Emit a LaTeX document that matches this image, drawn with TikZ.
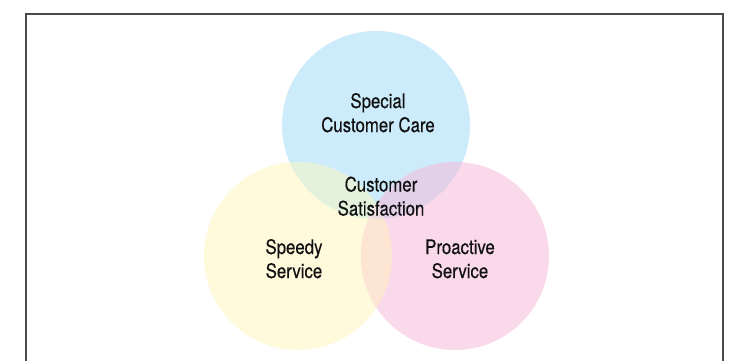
\documentclass[tikz,border=0pt]{standalone}
\usepackage{fontspec}
\setmainfont{TeX Gyre Heros}[FakeStretch=0.84,FakeBold=0.35]
\definecolor{cblue}{HTML}{CCEBFB}
\definecolor{cyellow}{HTML}{FEFADB}
\definecolor{cpink}{HTML}{FAD9EA}
\definecolor{cBY}{HTML}{E4F1DD}
\definecolor{cBP}{HTML}{E2D0E9}
\definecolor{cYP}{HTML}{FDE5D3}
\definecolor{cBYP}{HTML}{EEDDE0}
\definecolor{cframe}{HTML}{4A4A4A}
\definecolor{ctext}{HTML}{111111}
\tikzset{
  lbl/.style={align=center, inner sep=0pt, text=ctext, anchor=base,
    font=\fontsize{20}{24}\selectfont},
  rad/.style={radius=94pt}
}
\begin{document}
\begin{tikzpicture}[x=1pt,y=-1pt]
\useasboundingbox (0,0) rectangle (737,361);
\clip (0,0) rectangle (737,361);
\fill[white] (0,0) rectangle (737,361);
\coordinate (B) at (376,125);
\coordinate (Y) at (298,256);
\coordinate (P) at (455,256);
\fill[cblue] (B) circle[rad];
\fill[cyellow] (Y) circle[rad];
\fill[cpink] (P) circle[rad];
\begin{scope}\clip (B) circle[rad]; \fill[cBY] (Y) circle[rad];\end{scope}
\begin{scope}\clip (B) circle[rad]; \fill[cBP] (P) circle[rad];\end{scope}
\begin{scope}\clip (Y) circle[rad]; \fill[cYP] (P) circle[rad];\end{scope}
\begin{scope}\clip (B) circle[rad]; \clip (Y) circle[rad]; \fill[cBYP] (P) circle[rad];\end{scope}
\draw[cframe, line width=1.3pt] (26,14) rectangle (723,400);
\node[lbl] (care) at (378,132) {Special\\Customer Care};
\node[lbl] (sat) at (381,215.5) {Customer\\Satisfaction};
\node[lbl] (speedy) at (294,278) {Speedy\\Service};
\node[lbl] (proactive) at (460,278) {Proactive\\Service};
\end{tikzpicture}
\end{document}
